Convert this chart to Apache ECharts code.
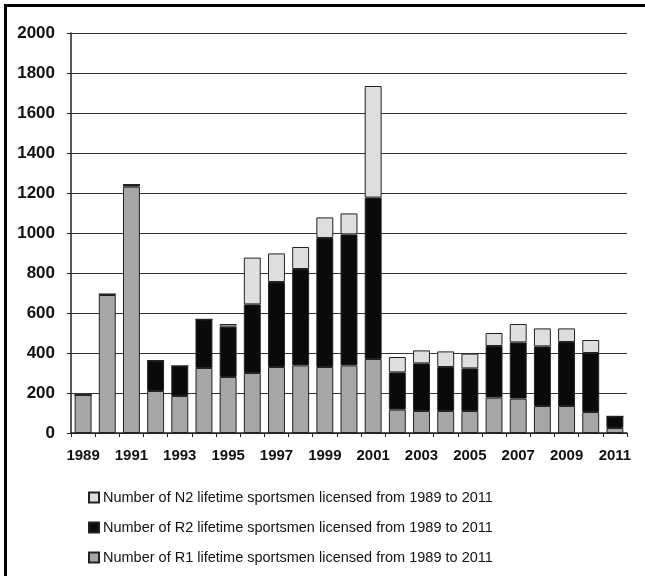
<!DOCTYPE html>
<html>
<head>
<meta charset="utf-8">
<script src="https://cdn.jsdelivr.net/npm/echarts@6/dist/echarts.min.js"></script>
<style>html,body{margin:0;padding:0;background:#fff;}#c{width:645px;height:576px;}</style>
</head>
<body>
<div id="c"></div>
<script>
var years = ['1989','1990','1991','1992','1993','1994','1995','1996','1997','1998','1999','2000','2001','2002','2003','2004','2005','2006','2007','2008','2009','2010','2011'];
var r1 = [190, 690, 1232, 210, 185, 325, 280, 300, 330, 338, 330, 338, 370, 117, 110, 110, 110, 177, 172, 135, 135, 105, 25];
var r2 = [0, 4, 10, 152, 150, 243, 252, 343, 425, 482, 645, 655, 807, 186, 238, 220, 213, 258, 281, 298, 320, 295, 58];
var n2 = [0, 0, 0, 0, 0, 0, 13, 234, 143, 110, 103, 105, 558, 77, 65, 78, 74, 65, 92, 90, 68, 65, 0];
var yTicks = [0, 200, 400, 600, 800, 1000, 1200, 1400, 1600, 1800, 2000];
var names = {
  n2: 'Number of N2 lifetime sportsmen licensed from 1989 to 2011',
  r2: 'Number of R2 lifetime sportsmen licensed from 1989 to 2011',
  r1: 'Number of R1 lifetime sportsmen licensed from 1989 to 2011'
};

var chart = echarts.init(document.getElementById('c'));
var border = { borderColor: '#222', borderWidth: 1 };
var ff = '"Liberation Sans Narrow", "Liberation Sans", Arial, sans-serif';
chart.setOption({
  animation: false,
  backgroundColor: '#fff',
  grid: { left: 71, right: 18, top: 33, bottom: 143 },
  legend: {
    orient: 'vertical',
    left: 83,
    top: 485,
    itemWidth: 10,
    itemHeight: 10,
    itemGap: 15,
    icon: 'rect',
    data: [names.n2, names.r2, names.r1],
    textStyle: { fontFamily: ff, fontSize: 14.5, color: '#111', padding: [0, 0, 0, -1] }
  },
  xAxis: {
    type: 'category',
    data: years,
    axisLine: { lineStyle: { color: '#222', width: 1.5 } },
    axisTick: { show: true, interval: 0, length: 4, lineStyle: { color: '#222' } },
    axisLabel: { interval: 1, margin: 15, color: '#111', fontWeight: 'bold', fontSize: 15, fontFamily: ff }
  },
  yAxis: {
    type: 'value',
    min: yTicks[0],
    max: yTicks[yTicks.length - 1],
    interval: yTicks[1] - yTicks[0],
    axisLine: { show: true, lineStyle: { color: '#222', width: 1.5 } },
    axisTick: { show: true, length: 4, lineStyle: { color: '#222' } },
    splitLine: { lineStyle: { color: '#333', width: 1.2 } },
    axisLabel: { margin: 16, color: '#111', fontWeight: 'bold', fontSize: 17, fontFamily: '"Liberation Sans", Arial, sans-serif', formatter: function (v) { return String(v); } }
  },
  graphic: [
    { type: 'polyline', shape: { points: [[5.5, 576], [5.5, 5.5], [645, 5.5]] }, style: { stroke: '#000', lineWidth: 3, fill: null } }
  ],
  series: [
    { name: names.r1, type: 'bar', stack: 't', data: r1, barCategoryGap: '30%', itemStyle: Object.assign({ color: '#a6a6a6' }, border) },
    { name: names.r2, type: 'bar', stack: 't', data: r2, itemStyle: Object.assign({ color: '#0a0a0a' }, border) },
    { name: names.n2, type: 'bar', stack: 't', data: n2, itemStyle: Object.assign({ color: '#dedede' }, border) }
  ]
});
</script>
</body>
</html>
